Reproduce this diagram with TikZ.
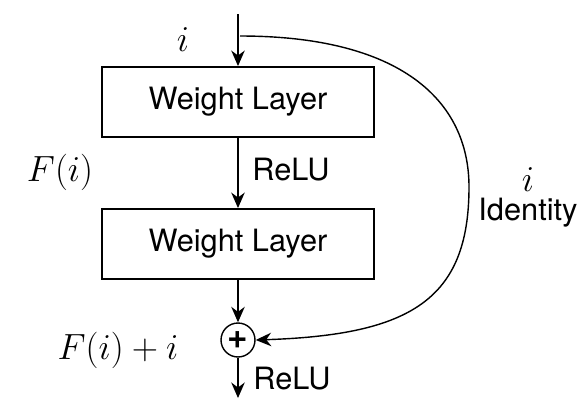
\documentclass[tikz,border=0pt]{standalone}
\usepackage{fontspec}
\setmainfont{TeX Gyre Heros}
\usetikzlibrary{arrows.meta}

\begin{document}
\begin{tikzpicture}[x=0.02cm, y=-0.02cm,
  every node/.style={font=\fontsize{17.5}{21}\selectfont},
  formula/.style ={font=\fontsize{20}{24}\selectfont},
  layer/.style ={rectangle, draw, line width=1.1pt, minimum width=5.44cm, minimum height=1.4cm},
  adder/.style ={circle, draw, thick, inner sep=0pt, minimum size=0.68cm},
  flow/.style ={thick, -{Stealth[length=3.1mm, width=2.7mm, inset=1mm]}}]
 \useasboundingbox (0,0) rectangle (582,417);
 \coordinate (in) at (238,14);
 \coordinate (skip) at (240,36);
 \node[layer] (L1) at (238,102) {Weight Layer};
 \node[layer] (L2) at (238,244) {Weight Layer};
 \node[adder] (add) at (238,340) {\fontsize{20}{20}\selectfont\textbf{+}};
 \coordinate (out) at (238,398);
 \node[formula] (xin) at (183,40) {$i$};
 \node[formula] (res) at (60,172) {$F(i)$};
 \node (act1) at (291,170) {ReLU};
 \node[formula] (xid) at (528,180) {$i$};
 \node (idt) at (528,213) {Identity};
 \node[formula] (sum) at (118,350) {$F(i)+i$};
 \node (act2) at (292,379) {ReLU};
 \draw[flow] (in) to (L1);
 \draw[flow] (L1) to (L2);
 \draw[flow] (L2) to (add);
 \draw[flow] (add) to (out);
 \draw[flow] (skip) .. controls (400,36) and (469,100) .. (469,187)
   .. controls (469,300) and (410,335) .. (add.east);
\end{tikzpicture}
\end{document}
